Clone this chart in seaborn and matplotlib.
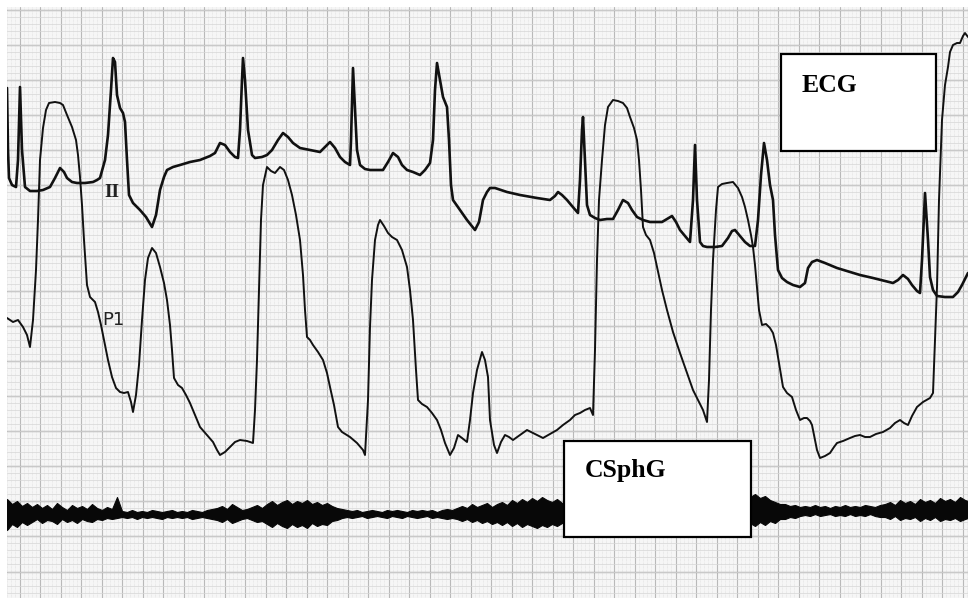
import numpy as np
import pandas as pd
import matplotlib
matplotlib.use("Agg")
import matplotlib.pyplot as plt
from matplotlib.patches import Rectangle
from matplotlib.ticker import FixedLocator
import seaborn as sns

# ---------------- data (paper coordinates: x right, y down) -------------
ecg_x = [7, 8, 9, 12, 16, 18, 20, 22, 25, 30, 37, 43, 50, 55, 60, 64, 67, 72, 77, 85, 93, 97, 100,
         105, 108, 111, 113, 115, 117, 120, 123, 125, 127, 129, 133, 140, 146, 152, 156, 160, 164,
         167, 173, 180, 190, 200, 210, 215, 220, 225, 230, 235, 238, 240, 242, 243, 245, 248, 252,
         255, 262, 267, 272, 278, 283, 288, 293, 300, 310, 320, 325, 330, 335, 340, 345, 350, 351,
         353, 355, 357, 360, 365, 370, 383, 388, 393, 398, 402, 407, 413, 420, 425, 430, 433, 435,
         437, 440, 443, 447, 449, 451, 453, 460, 467, 475, 479, 483, 487, 490, 495, 507, 520, 537,
         550, 555, 558, 562, 567, 572, 578, 580, 582, 583, 585, 587, 590, 595, 600, 607, 613, 618,
         623, 628, 632, 637, 643, 650, 656, 662, 667, 672, 676, 680, 685, 690, 693, 695, 697, 700,
         703, 707, 715, 722, 728, 732, 735, 740, 745, 750, 755, 758, 761, 764, 767, 770, 773, 775,
         778, 782, 787, 793, 800, 805, 808, 812, 817, 825, 837, 850, 860, 873, 885, 893, 898, 903,
         908, 912, 917, 920, 922, 925, 928, 930, 933, 937, 945, 953, 958, 962, 968]
ecg_y = [88, 150, 178, 185, 187, 160, 87, 150, 187, 191, 191, 190, 187, 178, 168, 172, 178, 182,
         183, 183, 182, 180, 178, 160, 135, 90, 58, 62, 95, 108, 113, 122, 160, 195, 203, 210, 217,
         227, 215, 190, 177, 170, 167, 165, 162, 160, 156, 153, 143, 145, 152, 157, 158, 130, 80,
         58, 80, 130, 155, 158, 157, 155, 150, 140, 133, 137, 143, 148, 150, 152, 147, 142, 148,
         157, 162, 165, 140, 68, 110, 150, 165, 169, 170, 170, 162, 153, 157, 165, 170, 172, 175,
         170, 163, 140, 90, 63, 80, 97, 107, 140, 185, 200, 210, 220, 230, 222, 200, 192, 188, 188,
         192, 195, 198, 200, 196, 192, 195, 200, 206, 213, 180, 130, 117, 160, 205, 215, 218, 220,
         219, 219, 210, 200, 203, 210, 217, 220, 222, 222, 222, 219, 216, 222, 230, 236, 242, 200,
         145, 200, 242, 246, 247, 247, 246, 238, 231, 230, 236, 242, 246, 246, 220, 175, 143, 160,
         185, 200, 235, 270, 278, 282, 285, 287, 283, 268, 262, 260, 263, 268, 272, 275, 278, 281,
         283, 280, 275, 279, 285, 291, 293, 260, 193, 240, 277, 290, 296, 297, 297, 292, 285, 273]

p1_x = [7, 13, 18, 23, 27, 30, 33, 36, 38, 40, 43, 46, 49, 55, 60, 63, 67, 72, 76, 78, 80, 82, 84,
        87, 90, 95, 98, 101, 105, 108, 112, 116, 120, 124, 128, 131, 133, 136, 139, 142, 145, 148,
        152, 156, 160, 164, 167, 170, 172, 174, 178, 182, 186, 190, 195, 200, 207, 213, 217, 220,
        225, 230, 235, 240, 247, 253, 255, 257, 259, 261, 263, 267, 271, 275, 280, 284, 288, 292,
        296, 300, 303, 305, 307, 310, 313, 318, 323, 327, 330, 334, 338, 342, 350, 357, 363, 365,
        368, 370, 372, 375, 378, 380, 384, 388, 392, 397, 402, 407, 410, 413, 416, 418, 422, 427,
        432, 437, 441, 445, 450, 454, 458, 462, 467, 470, 473, 477, 482, 485, 488, 490, 494, 497,
        501, 505, 509, 513, 520, 527, 535, 543, 550, 557, 563, 570, 575, 580, 585, 590, 593, 595,
        597, 599, 602, 605, 608, 613, 618, 623, 627, 630, 634, 637, 639, 641, 643, 646, 650, 654,
        657, 662, 667, 673, 680, 687, 693, 698, 703, 707, 709, 711, 713, 716, 718, 722, 727, 733,
        738, 742, 745, 748, 751, 753, 755, 757, 759, 762, 766, 770, 773, 776, 778, 781, 783, 787,
        792, 796, 800, 804, 807, 810, 812, 815, 817, 820, 825, 830, 834, 837, 843, 850, 855, 860,
        865, 870, 876, 883, 890, 895, 900, 904, 908, 912, 917, 923, 930, 933, 935, 937, 939, 942,
        945, 948, 950, 953, 957, 960, 963, 965, 968]
p1_y = [318, 322, 320, 327, 335, 347, 320, 270, 220, 160, 128, 110, 103, 102, 103, 105, 115, 127,
        140, 155, 177, 205, 240, 285, 297, 302, 312, 325, 345, 360, 377, 388, 392, 393, 392, 402,
        412, 395, 365, 320, 280, 258, 248, 253, 267, 283, 300, 325, 350, 378, 385, 388, 395, 403,
        415, 427, 435, 442, 450, 455, 452, 447, 442, 440, 441, 443, 410, 360, 290, 220, 185, 167,
        171, 173, 167, 170, 180, 195, 215, 240, 275, 310, 337, 340, 345, 352, 360, 373, 387, 405,
        427, 432, 437, 443, 450, 455, 400, 327, 280, 240, 225, 220, 226, 233, 237, 240, 250, 267,
        290, 320, 370, 400, 404, 407, 413, 420, 430, 443, 455, 448, 435, 438, 442, 420, 393, 370,
        352, 360, 377, 420, 445, 453, 442, 435, 437, 440, 435, 430, 434, 438, 434, 430, 425, 420,
        415, 413, 410, 408, 415, 350, 260, 200, 160, 125, 107, 100, 101, 103, 108, 117, 128, 140,
        160, 190, 227, 235, 240, 253, 267, 290, 310, 332, 353, 373, 390, 400, 410, 422, 380, 310,
        260, 210, 187, 184, 183, 182, 188, 197, 207, 220, 235, 247, 265, 287, 310, 325, 324, 328,
        333, 345, 357, 375, 387, 393, 397, 410, 420, 418, 418, 421, 425, 440, 450, 458, 456, 453,
        447, 443, 441, 438, 436, 435, 437, 437, 434, 432, 428, 423, 420, 423, 425, 416, 407, 402,
        398, 393, 340, 287, 200, 120, 85, 67, 52, 45, 43, 43, 36, 33, 37]

# CSphG (sound) trace: read as upper / lower envelope of the noise band
csphg_x = (list(range(7, 563, 5)) + [600, 650, 700, 745] + list(range(750, 966, 5)) + [968])
csphg_top = [499, 504, 501, 506, 503,
             507, 504, 508, 505, 509, 503, 507, 510, 505, 508, 506, 509, 504, 508, 510, 507, 509,
             497,
             511, 512, 510, 512, 511, 512, 510, 511, 512, 511, 510, 512, 511, 512, 510, 511, 512,
             510, 509,
             508, 506, 509, 504, 507, 510, 509, 507, 505, 508,
             504, 501, 505, 502, 500, 504, 501, 503, 500, 504, 502, 505, 503, 506, 508,
             509, 510, 511, 510, 512, 511, 510, 511, 512, 510, 511, 510, 511, 512, 510, 511, 510,
             511, 510, 512, 510, 509, 510, 508,
             506, 508, 504, 507, 505, 503, 507, 504, 502, 505, 500, 503, 499, 502, 498, 501, 497,
             500, 502, 499, 503,
             504, 505, 504, 501,
             497, 494, 498, 496, 500, 502, 504,
             504, 506, 505, 507,
             506, 507, 505, 507, 506, 508, 506, 507, 505, 507, 506, 507, 505, 506, 507, 505,
             504, 502, 505, 500, 503, 501, 504, 499, 502, 500, 503, 498, 501, 499, 502, 497, 500,
             501]
csphg_bottom = [530, 524, 527, 522, 525,
                522, 519, 523, 520, 521, 524, 519, 522, 520, 523, 519, 521, 522, 519, 520, 518, 519,
                518,
                517, 518, 517, 519, 517, 518, 517, 518, 519, 517, 518, 517, 518, 517, 519, 518, 517,
                518, 519,
                520, 522, 519, 523, 521, 519, 518, 520, 522, 521,
                524, 527, 523, 526, 528, 524, 527, 525, 528, 523, 526, 524, 525, 521, 520,
                518, 517, 518, 517, 516, 518, 517, 516, 517, 518, 516, 517, 518, 516, 517, 518, 517,
                516, 518, 517, 518, 519, 518, 519,
                521, 519, 522, 520, 523, 521, 524, 522, 525, 522, 526, 523, 527, 524, 526, 528, 525,
                527, 524, 526, 523,
                520, 519, 520, 522,
                523, 526, 522, 525, 521, 523, 519,
                519, 517, 518, 516,
                515, 516, 514, 516, 515, 514, 516, 515, 516, 514, 516, 515, 516, 514, 516, 517,
                517, 519, 516, 520, 518, 519, 517, 521, 518, 520, 517, 521, 519, 520, 518, 521, 519,
                518]

trace_labels = ["II", "P1"]
box_labels = ["ECG", "CSphG"]

# ---------------- figure -------------
sns.set_style("white")
plt.rcParams["font.family"] = ["DejaVu Sans"]

W, H = 968, 603
fig = plt.figure(figsize=(W / 100, H / 100), dpi=100)
fig.patch.set_facecolor("white")

x0, x1, y0, y1 = 7, 968, 7, 598
ax = fig.add_axes([x0 / W, (H - y1) / H, (x1 - x0) / W, (y1 - y0) / H])
ax.set_facecolor("#f6f6f6")
for s in ax.spines.values():
    s.set_visible(False)

# chart-paper grid
ax.xaxis.set_major_locator(FixedLocator(np.arange(19.5, 970, 20.5)))
ax.xaxis.set_minor_locator(FixedLocator(np.arange(3.1, 970, 4.1)))
ax.yaxis.set_major_locator(FixedLocator(np.arange(9.9, 600, 35.1)))
ax.yaxis.set_minor_locator(FixedLocator(np.arange(2.9, 600, 7.02)))
ax.grid(which="major", axis="x", color="#b9b9b9", lw=0.8)
ax.grid(which="minor", axis="x", color="#dedede", lw=0.5, ls=(0, (1, 1)))
ax.grid(which="major", axis="y", color="#adadad", lw=1.0)
ax.grid(which="minor", axis="y", color="#d6d6d6", lw=0.5)
ax.tick_params(which="both", length=0, labelbottom=False, labelleft=False)
ax.set_axisbelow(True)

ecg = pd.DataFrame({"x": ecg_x, "y": ecg_y})
p1 = pd.DataFrame({"x": p1_x, "y": p1_y})
sns.lineplot(data=p1, x="x", y="y", ax=ax, color="#111111", lw=1.4,
             estimator=None, sort=False, zorder=3)
sns.lineplot(data=ecg, x="x", y="y", ax=ax, color="#111111", lw=1.9,
             estimator=None, sort=False, zorder=4)
ax.fill_between(csphg_x, csphg_top, csphg_bottom, color="#080808", lw=0.8,
                edgecolor="#080808", zorder=3)
ax.set_xlabel("")
ax.set_ylabel("")
ax.set_xlim(x0, x1)
ax.set_ylim(y1, y0)

# trace labels
ax.text(104, 197, trace_labels[0], family=["Liberation Serif", "DejaVu Serif"],
        fontsize=14, weight="bold", color="#222222", ha="left", va="baseline", zorder=5)
ax.text(102, 325, trace_labels[1], family=["Liberation Sans Narrow", "DejaVu Sans"],
        fontsize=13, color="#222222", ha="left", va="baseline", zorder=5)

# annotation boxes
ax.add_patch(Rectangle((781, 54), 155, 97, fc="white", ec="black", lw=1.6, zorder=6))
ax.text(802, 92, box_labels[0], family=["Liberation Serif", "DejaVu Serif"],
        fontsize=18.5, weight="bold", color="black", ha="left", va="baseline", zorder=7)
ax.add_patch(Rectangle((564, 441), 187, 96, fc="white", ec="black", lw=1.6, zorder=6))
ax.text(585, 477, box_labels[1], family=["Liberation Serif", "DejaVu Serif"],
        fontsize=18.5, weight="bold", color="black", ha="left", va="baseline", zorder=7)

fig.savefig("out.png", dpi=100, facecolor="white")
